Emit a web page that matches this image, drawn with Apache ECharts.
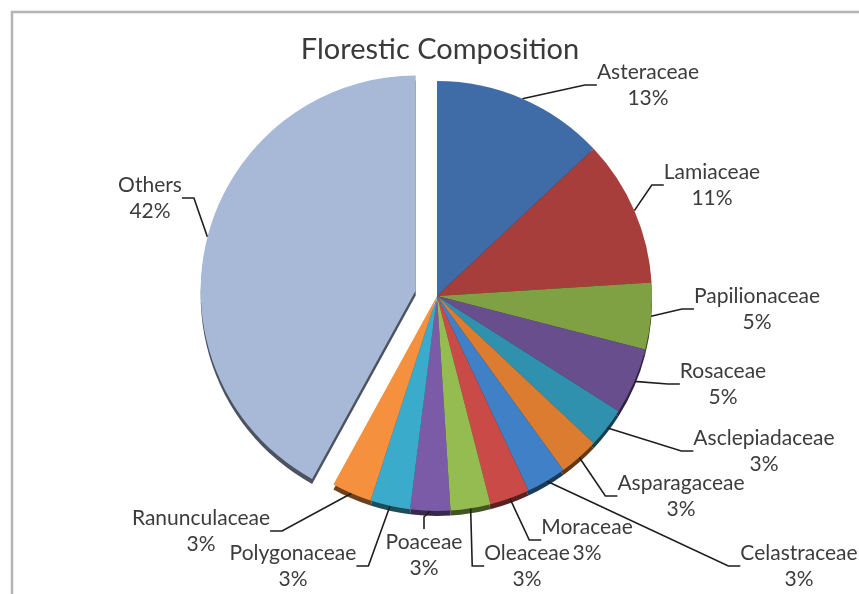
<!DOCTYPE html>
<html>
<head>
<meta charset="utf-8">
<script src="https://cdn.jsdelivr.net/npm/echarts@6/dist/echarts.min.js"></script>
<style>
  html, body { margin: 0; padding: 0; background: #fff; }
  #chart { width: 859px; height: 594px; }
</style>
</head>
<body>
<div id="chart"></div>
<script>
// Plant families and their share (%) of the recorded flora
const families = [
  'Asteraceae', 'Lamiaceae', 'Papilionaceae', 'Rosaceae', 'Asclepiadaceae',
  'Asparagaceae', 'Celastraceae', 'Moraceae', 'Oleaceae', 'Poaceae',
  'Polygonaceae', 'Ranunculaceae', 'Others'
];
const shares = [13, 11, 5, 5, 3, 3, 3, 3, 3, 3, 3, 3, 42];
const explodedFamily = 'Others';

// Slice colours
const sliceColors = [
  '#3F6CA7', '#A83E3B', '#7FA043', '#694E8D', '#2F91AD',
  '#DB7C31', '#3F80C7', '#C94A47', '#94BC50', '#7B5BA8',
  '#3BABCB', '#F4903E', '#A7B9D6'
];

// Label anchor points (label block centres)
const labelAnchors = {
  'Asteraceae':     [648, 85],
  'Lamiaceae':      [712, 185],
  'Papilionaceae':  [757, 309],
  'Rosaceae':       [723, 384],
  'Asclepiadaceae': [764, 451],
  'Asparagaceae':   [681, 496],
  'Celastraceae':   [799, 566],
  'Moraceae':       [587, 540],
  'Oleaceae':       [527, 566],
  'Poaceae':        [424, 555],
  'Polygonaceae':   [293, 566],
  'Ranunculaceae':  [201, 531],
  'Others':         [150, 198]
};

function darken(hex, f) {
  const n = parseInt(hex.slice(1), 16);
  const r = Math.round(((n >> 16) & 255) * f);
  const g = Math.round(((n >> 8) & 255) * f);
  const b = Math.round((n & 255) * f);
  return 'rgb(' + r + ',' + g + ',' + b + ')';
}

const CX = 437, CY = 296, R = 215, EXPLODE = 22, RIM = 5;
const FONT = 'Lato, "Open Sans", sans-serif';
const CLEAR = 'rgba(0,0,0,0)';

// Direction of the exploded slice: along its bisector (clockwise from 12 o'clock)
const total = shares.reduce((a, b) => a + b, 0);
const exIdx = families.indexOf(explodedFamily);
const before = shares.slice(0, exIdx).reduce((a, b) => a + b, 0);
const midAngle = (before + shares[exIdx] / 2) / total * 2 * Math.PI;
const exDx = Math.sin(midAngle) * EXPLODE;
const exDy = -Math.cos(midAngle) * EXPLODE;

// Build data for a pie layer; `keep` decides which slices are painted
function layerData(keep, shade) {
  return families.map((name, i) => ({
    name: name,
    value: shares[i],
    itemStyle: { color: keep(name) ? (shade ? darken(sliceColors[i], 0.45) : sliceColors[i]) : CLEAR },
    label: { show: !shade && keep(name) },
    labelLine: { show: !shade && keep(name) }
  }));
}
const isMain = name => name !== explodedFamily;
const isExploded = name => name === explodedFamily;

const labelStyle = {
  position: 'outside',
  formatter: '{b}\n{c}%',
  fontFamily: FONT,
  fontSize: 21,
  lineHeight: 26,
  color: '#3c3c3c',
  align: 'center'
};
const lineStyle = {
  length: 12,
  length2: 12,
  smooth: false,
  lineStyle: { color: '#1e1e1e', width: 1.6 }
};
function placeLabel(params) {
  const a = labelAnchors[families[params.dataIndex]];
  return { x: a[0], y: a[1], align: 'center', verticalAlign: 'middle' };
}

function pieLayer(name, center, keep, shade, z) {
  return {
    type: 'pie',
    name: name,
    silent: true,
    center: center,
    radius: R,
    startAngle: 90,
    clockwise: true,
    avoidLabelOverlap: false,
    emphasis: { disabled: true },
    itemStyle: { borderWidth: 0 },
    label: shade ? { show: false } : labelStyle,
    labelLine: shade ? { show: false } : lineStyle,
    labelLayout: shade ? undefined : placeLabel,
    z: z,
    data: layerData(keep, shade)
  };
}

const chart = echarts.init(document.getElementById('chart'), null, { renderer: 'canvas' });
chart.setOption({
  animation: false,
  backgroundColor: '#ffffff',
  title: {
    text: 'Florestic Composition',
    left: 435,
    top: 30,
    textAlign: 'center',
    textStyle: { fontFamily: FONT, fontSize: 29, fontWeight: 'normal', color: '#3a3a3a' }
  },
  graphic: [{
    type: 'rect',
    shape: { x: 12, y: 12, width: 900, height: 620 },
    style: { fill: 'none', stroke: '#b4b4b4', lineWidth: 2.5 },
    silent: true,
    z: 0
  }],
  series: [
    // darker copies underneath give the thin 3D rim along the bottom
    pieLayer('rim', [CX, CY + RIM], isMain, true, 1),
    pieLayer('rim-exploded', [CX + exDx, CY + exDy + RIM], isExploded, true, 1),
    pieLayer('Florestic Composition', [CX, CY], isMain, false, 2),
    pieLayer('Florestic Composition (exploded)', [CX + exDx, CY + exDy], isExploded, false, 2)
  ]
});
</script>
</body>
</html>
